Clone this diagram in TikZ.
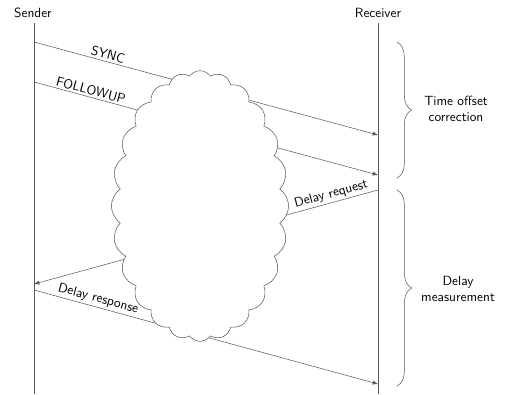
\documentclass[tikz,border=0pt]{standalone}
\usepackage{tikz}
\usetikzlibrary{arrows, shapes.symbols, decorations.pathreplacing}

\begin{document}
\begin{tikzpicture}[
    x=0.75pt, y=-0.75pt,
    >=latex,
    font=\sffamily,
    lifeline/.style={draw=black!65, thin},
    msg/.style={->, draw=black!65, thin},
    msglabel/.style={sloped, above, inner sep=1.5pt},
    mycloud/.style={cloud, draw=black!65, fill=white, cloud puffs=24,
      cloud puff arc=110, cloud ignores aspect, inner sep=0pt,
      minimum width=133pt, minimum height=203pt},
    phase/.style={draw=black!65, decorate,
      decoration={brace, amplitude=11pt}},
    phasetext/.style={align=center}
  ]
  \useasboundingbox (0,0) rectangle (506,394);

  % --- PARTIES ---
  \node (sender) at (33,13) {Sender};
  \node (receiver) at (378,13) {Receiver};
  \coordinate (sbot) at (34,394);
  \coordinate (rbot) at (378,394);
  \draw[lifeline] (34,23) -- (sbot);
  \draw[lifeline] (378,23) -- (rbot);

  % --- MESSAGES ---
  \coordinate (s1) at (34,42);   \coordinate (r1) at (378,135);
  \coordinate (s2) at (34,82);   \coordinate (r2) at (378,175);
  \coordinate (r3) at (378,190); \coordinate (s3) at (34,284);
  \coordinate (s4) at (34,290);  \coordinate (r4) at (378,384);

  \draw[msg] (s1) -- node[msglabel, pos=0.21] {SYNC} (r1);
  \draw[msg] (s2) -- node[msglabel, pos=0.16] {FOLLOWUP} (r2);
  \draw[msg] (r3) -- node[msglabel, pos=0.13] {Delay request} (s3);
  \draw[msg] (s4) -- node[msglabel, pos=0.18] {Delay response} (r4);

  % --- NETWORK ---
  \node[mycloud] (net) at (200,206) {};

  % --- PHASES ---
  \draw[phase] (397,42) -- (397,178);
  \draw[phase] (397,190) -- (397,386);
  \node[phasetext] (offset) at (456,109) {Time offset\\correction};
  \node[phasetext] (delay) at (458,289) {Delay\\measurement};

\end{tikzpicture}
\end{document}
